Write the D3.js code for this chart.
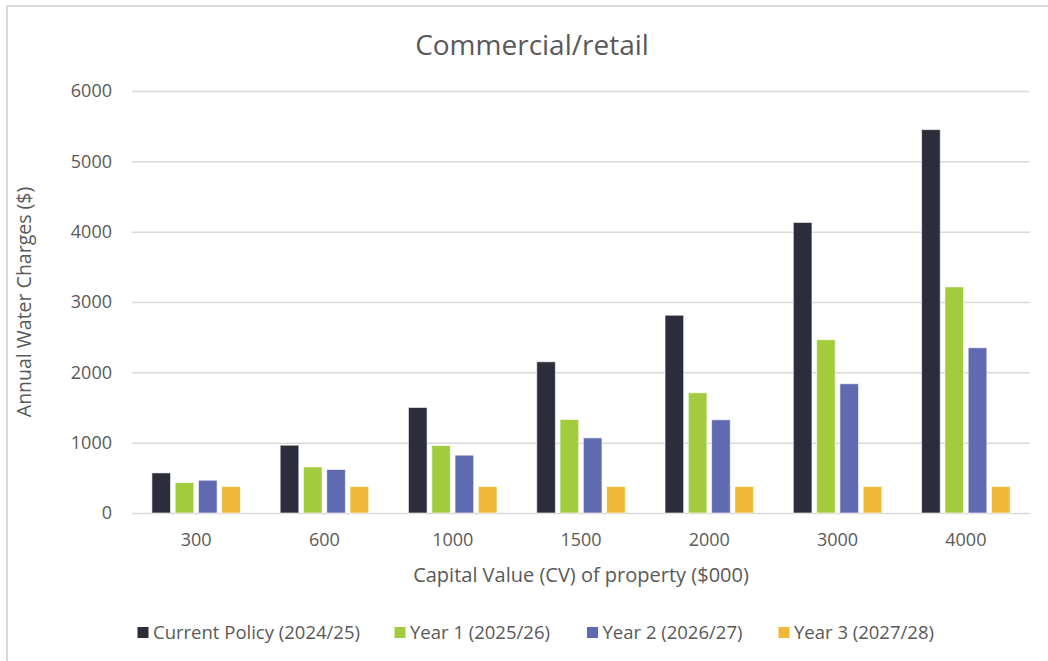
<!DOCTYPE html>
<html><head><meta charset="utf-8">
<script src="https://cdn.jsdelivr.net/npm/d3@7"></script>
<style>body{margin:0;background:#fff;} text{font-family:"Open Sans",sans-serif;fill:#595959;}</style>
</head><body><svg id="c" width="1048" height="661"></svg>
<script>
const categories = ["300","600","1000","1500","2000","3000","4000"];
const seriesNames = ["Current Policy (2024/25)","Year 1 (2025/26)","Year 2 (2026/27)","Year 3 (2027/28)"];
const currentPolicy = [570, 964, 1500, 2150, 2812, 4131, 5451];
const year1 = [433, 655, 960, 1330, 1709, 2464, 3215];
const year2 = [466, 618, 822, 1068, 1325, 1838, 2349];
const year3 = [376, 376, 376, 376, 376, 376, 376];
const yTicks = [0,1000,2000,3000,4000,5000,6000];
const colors = ["#2c2d3a","#a2cc3e","#5f6ab0","#efb836"];
const series = [currentPolicy, year1, year2, year3];

const svg = d3.select("#c");
// outer border
svg.append("path").attr("d","M7,661 V6 H1048").attr("fill","none").attr("stroke","#d9d9d9").attr("stroke-width",2);

const x0 = d3.scaleBand().domain(categories).range([132,1030]).paddingInner(0.31).paddingOuter(0.155);
const x1 = d3.scaleBand().domain(d3.range(4)).range([0,x0.bandwidth()]).paddingInner(0.2);
const y = d3.scaleLinear().domain([0,6000]).range([513,91]);

// gridlines
svg.append("g").selectAll("line").data(yTicks).join("line")
  .attr("x1",132).attr("x2",1030).attr("y1",d=>y(d)+0.5).attr("y2",d=>y(d)+0.5)
  .attr("stroke","#d9d9d9").attr("stroke-width",1.5);

// y axis labels
const yAxis = d3.axisLeft(y).tickValues(yTicks).tickSize(0).tickPadding(0).tickFormat(d3.format("d"));
const yg = svg.append("g").attr("transform","translate(112,0)").call(yAxis);
yg.select(".domain").remove();
yg.selectAll("text").style("font-size","18px").attr("fill","#595959").attr("font-family","Open Sans");

// x axis labels
const xAxis = d3.axisBottom(x0).tickSize(0).tickPadding(0);
const xg = svg.append("g").attr("transform","translate(0,533)").call(xAxis);
xg.select(".domain").remove();
xg.selectAll("text").style("font-size","18px").attr("fill","#595959").attr("font-family","Open Sans");

// bars
categories.forEach((c,i)=>{
  series.forEach((s,j)=>{
    svg.append("rect")
      .attr("x", x0(c)+x1(j)).attr("width", x1.bandwidth())
      .attr("y", y(s[i])).attr("height", y(0)-y(s[i]))
      .attr("fill", colors[j]).attr("stroke","#ffffff").attr("stroke-opacity",0.6).attr("stroke-width",1);
  });
});

// title
svg.append("text").attr("x",532).attr("y",55).attr("text-anchor","middle").style("font-size","28px").text("Commercial/retail");
// axis titles
svg.append("text").attr("transform","translate(31,302) rotate(-90)").attr("text-anchor","middle").style("font-size","19.5px").text("Annual Water Charges ($)");
svg.append("text").attr("x",581).attr("y",582).attr("text-anchor","middle").style("font-size","20px").text("Capital Value (CV) of property ($000)");

// legend
const legX = [137.5, 394.5, 587, 778.5];
const lg = svg.append("g");
seriesNames.forEach((n,j)=>{
  lg.append("rect").attr("x",legX[j]).attr("y",627).attr("width",11).attr("height",11).attr("fill",colors[j]);
  lg.append("text").attr("x",legX[j]+15.5).attr("y",639).style("font-size","18.5px").text(n);
});
</script></body></html>
